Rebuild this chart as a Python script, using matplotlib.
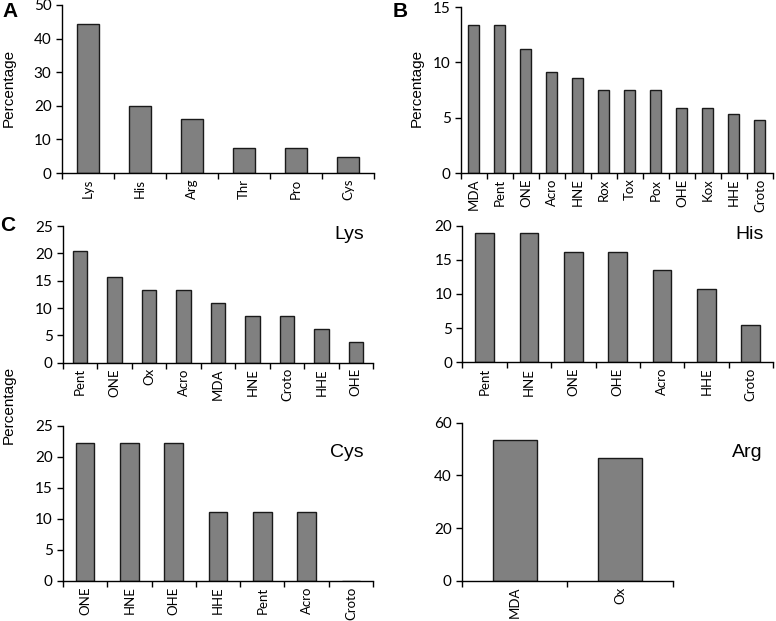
import matplotlib.pyplot as plt
from matplotlib.ticker import FixedLocator

plt.rcParams["font.family"] = ["Lato", "DejaVu Sans"]

# panel A: modified residue
res_labels = ["Lys", "His", "Arg", "Thr", "Pro", "Cys"]
res_values = [44.4, 19.8, 16.0, 7.4, 7.4, 4.9]

# panel B: modification type
mod_labels = ["MDA", "Pent", "ONE", "Acro", "HNE", "Rox", "Tox", "Pox", "OHE", "Kox", "HHE", "Croto"]
mod_values = [13.4, 13.4, 11.2, 9.1, 8.55, 7.5, 7.5, 7.5, 5.9, 5.9, 5.35, 4.8]

# panel C: per residue
lys_labels = ["Pent", "ONE", "Ox", "Acro", "MDA", "HNE", "Croto", "HHE", "OHE"]
lys_values = [20.5, 15.7, 13.3, 13.3, 10.9, 8.5, 8.5, 6.1, 3.7]

his_labels = ["Pent", "HNE", "ONE", "OHE", "Acro", "HHE", "Croto"]
his_values = [18.9, 18.9, 16.2, 16.2, 13.5, 10.8, 5.4]

cys_labels = ["ONE", "HNE", "OHE", "HHE", "Pent", "Acro", "Croto"]
cys_values = [22.2, 22.2, 22.2, 11.1, 11.1, 11.1, 0.0]

arg_labels = ["MDA", "Ox"]
arg_values = [53.3, 46.7]


def bar_panel(fig, rect, labels, values, ymax, ystep):
    ax = fig.add_axes(rect)
    n = len(labels)
    x = list(range(n))
    ax.bar(x, values, width=0.42, color="#808080", edgecolor="#1a1a1a", linewidth=1.0)
    ax.set_xlim(-0.5, n - 0.5)
    ax.set_ylim(0, ymax)
    ax.set_yticks(list(range(0, ymax + 1, ystep)))
    ax.set_xticks(x)
    ax.set_xticklabels(labels, rotation=90, fontsize=9.5)
    ax.xaxis.set_minor_locator(FixedLocator([i - 0.5 for i in range(n + 1)]))
    ax.tick_params(axis="x", which="major", length=0, pad=4)
    ax.tick_params(axis="x", which="minor", length=4, direction="out", width=1)
    ax.tick_params(axis="y", length=4, direction="out", width=1, labelsize=11)
    for s in ["top", "right"]:
        ax.spines[s].set_visible(False)
    for s in ["left", "bottom"]:
        ax.spines[s].set_linewidth(1.0)
    return ax


fig = plt.figure(figsize=(7.76, 6.21), dpi=100)

axA = bar_panel(fig, [0.0799, 0.7214, 0.402, 0.2706], res_labels, res_values, 50, 10)
axB = bar_panel(fig, [0.594, 0.7214, 0.402, 0.2673], mod_labels, mod_values, 15, 5)
axL = bar_panel(fig, [0.0812, 0.416, 0.3995, 0.220], lys_labels, lys_values, 25, 5)
axH = bar_panel(fig, [0.596, 0.4166, 0.400, 0.220], his_labels, his_values, 20, 5)
axC = bar_panel(fig, [0.0812, 0.0649, 0.3995, 0.2496], cys_labels, cys_values, 25, 5)
axR = bar_panel(fig, [0.5954, 0.0649, 0.2715, 0.2544], arg_labels, arg_values, 60, 20)

afont = ["Liberation Sans", "DejaVu Sans"]
for xx, yy in [(9 / 776, 1 - 88 / 621), (417 / 776, 1 - 88 / 621), (9 / 776, 1 - 405 / 621)]:
    fig.text(xx, yy, "Percentage", rotation=90, fontsize=11, family=afont,
             ha="center", va="center")

for ax, name, ytop in [(axL, "Lys", 1.0), (axH, "His", 1.0), (axC, "Cys", 0.885)]:
    ax.text(0.97, ytop, name, transform=ax.transAxes, ha="right", va="top",
            fontsize=14, family=afont)
fig.text(763 / 776, 0.272, "Arg", ha="right", va="center", fontsize=14, family=afont)

for xx, yy, letter in [(0.003, 0.997, "A"), (0.506, 0.997, "B"), (0.0, 0.652, "C")]:
    fig.text(xx, yy, letter, ha="left", va="top", fontsize=15, fontweight="bold",
             family=afont)

fig.savefig("out.png", dpi=100)
